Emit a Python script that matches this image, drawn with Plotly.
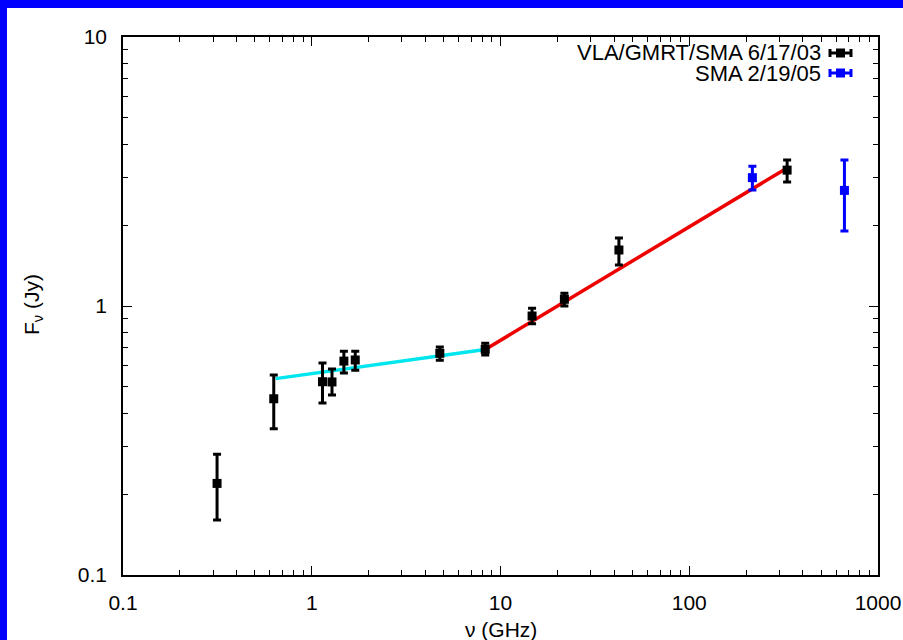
import plotly.graph_objects as go

# --- 2003 epoch: VLA / GMRT / SMA (GHz, Jy) ---
nu_2003 = [0.315, 0.629, 1.14, 1.28, 1.48, 1.70, 4.77, 8.30, 14.7, 21.8, 42.4, 330.0]
flux_2003 = [0.219, 0.452, 0.523, 0.522, 0.624, 0.630, 0.667, 0.690, 0.918, 1.059, 1.615, 3.20]
flux_2003_hi = [0.281, 0.554, 0.614, 0.583, 0.679, 0.679, 0.704, 0.727, 0.980, 1.115, 1.79, 3.49]
flux_2003_lo = [0.160, 0.350, 0.436, 0.467, 0.563, 0.577, 0.628, 0.657, 0.859, 1.000, 1.42, 2.89]

# --- 2005 epoch: SMA ---
nu_2005 = [216.0, 664.0]
flux_2005 = [3.00, 2.69]
flux_2005_hi = [3.31, 3.49]
flux_2005_lo = [2.70, 1.90]

# --- broken power-law fit segments ---
fit_low_nu = [0.644, 8.30]
fit_low_flux = [0.537, 0.689]
fit_high_nu = [8.30, 330.0]
fit_high_flux = [0.689, 3.26]

# axis ticks
x_tickvals = [0.1, 1, 10, 100, 1000]
x_ticktext = ["0.1", "1", "10", "100", "1000"]
y_tickvals = [0.1, 1, 10]
y_ticktext = ["0.1", "1", "10"]

series_labels = ["VLA/GMRT/SMA 6/17/03", "SMA 2/19/05"]
series_colors = ["#000000", "#0000FF"]

FONT = "Liberation Sans, Arial, Helvetica, sans-serif"
W, H = 903, 640
ML, MR, MT, MB = 123, 25, 37, 65
PW, PH = W - ML - MR, H - MT - MB


def px_to_paper_x(px):
    return (px - ML) / PW


def px_to_paper_y(py):
    return (H - MB - py) / PH


fig = go.Figure()

fig.add_trace(go.Scatter(x=fit_low_nu, y=fit_low_flux, mode="lines",
                         line=dict(color="#00E6EE", width=3.5), showlegend=False))
fig.add_trace(go.Scatter(x=fit_high_nu, y=fit_high_flux, mode="lines",
                         line=dict(color="#EE0000", width=3.5), showlegend=False))


def add_points(nu, flux, hi, lo, color):
    fig.add_trace(go.Scatter(
        x=nu, y=flux, mode="markers",
        marker=dict(symbol="square", size=9, color=color),
        error_y=dict(type="data", symmetric=False,
                     array=[h - f for h, f in zip(hi, flux)],
                     arrayminus=[f - l for f, l in zip(flux, lo)],
                     color=color, thickness=3, width=4),
        showlegend=False))


add_points(nu_2003, flux_2003, flux_2003_hi, flux_2003_lo, series_colors[0])
add_points(nu_2005, flux_2005, flux_2005_hi, flux_2005_lo, series_colors[1])

shapes = []
annotations = []

# blue frame along the top and left of the page
shapes.append(dict(type="rect", xref="paper", yref="paper",
                   x0=px_to_paper_x(-2), x1=px_to_paper_x(W + 2),
                   y0=px_to_paper_y(8), y1=px_to_paper_y(-2),
                   fillcolor="#0000FF", line=dict(width=0), layer="below"))
shapes.append(dict(type="rect", xref="paper", yref="paper",
                   x0=px_to_paper_x(-2), x1=px_to_paper_x(7),
                   y0=px_to_paper_y(H + 2), y1=px_to_paper_y(-2),
                   fillcolor="#0000FF", line=dict(width=0), layer="below"))

# key in the upper right corner: label then error-bar sample
key_rows_px = [53, 73]
for label, color, ypx in zip(series_labels, series_colors, key_rows_px):
    yp = px_to_paper_y(ypx)
    annotations.append(dict(xref="paper", yref="paper",
                            x=px_to_paper_x(823), y=yp,
                            xanchor="right", yanchor="middle", showarrow=False,
                            text=label, font=dict(family=FONT, size=22, color="black")))
    x0, x1 = px_to_paper_x(830), px_to_paper_x(851)
    shapes.append(dict(type="line", xref="paper", yref="paper",
                       x0=x0, x1=x1, y0=yp, y1=yp, line=dict(color=color, width=3)))
    for xe in (x0, x1):
        shapes.append(dict(type="line", xref="paper", yref="paper",
                           x0=xe, x1=xe, y0=px_to_paper_y(ypx - 4), y1=px_to_paper_y(ypx + 4),
                           line=dict(color=color, width=3)))
    xc = px_to_paper_x(840.5)
    shapes.append(dict(type="rect", xref="paper", yref="paper",
                       x0=xc - 4.5 / PW, x1=xc + 4.5 / PW,
                       y0=yp - 4.5 / PH, y1=yp + 4.5 / PH,
                       fillcolor=color, line=dict(width=0)))

# axis titles
annotations.append(dict(xref="paper", yref="paper", x=0.5, y=px_to_paper_y(629),
                        xanchor="center", yanchor="middle", showarrow=False,
                        text="\u03bd (GHz)", font=dict(family=FONT, size=21, color="black")))
annotations.append(dict(xref="paper", yref="paper", x=px_to_paper_x(33), y=px_to_paper_y(305),
                        xanchor="center", yanchor="middle", showarrow=False, textangle=-90,
                        text="F<sub>\u03bd</sub> (Jy)", font=dict(family=FONT, size=21, color="black")))

axis_common = dict(
    type="log", showgrid=False, zeroline=False, automargin=False,
    showline=True, linecolor="black", linewidth=1.5, mirror="allticks",
    ticks="inside", ticklen=9, tickwidth=1.2, tickcolor="black",
    tickfont=dict(family=FONT, size=21, color="black"),
    minor=dict(ticks="inside", ticklen=5, tickwidth=1.2, tickcolor="black", dtick="D1", showgrid=False),
)

fig.update_layout(
    width=W, height=H,
    margin=dict(l=ML, r=MR, t=MT, b=MB, pad=0, autoexpand=False),
    paper_bgcolor="white", plot_bgcolor="white",
    xaxis=dict(axis_common, range=[-1, 3], tickvals=x_tickvals, ticktext=x_ticktext,
               ticklabelstandoff=8),
    yaxis=dict(axis_common, range=[-1, 1], tickvals=y_tickvals, ticktext=y_ticktext,
               ticklabelstandoff=10),
    shapes=shapes, annotations=annotations,
    showlegend=False,
)

fig.write_html("out.html")
